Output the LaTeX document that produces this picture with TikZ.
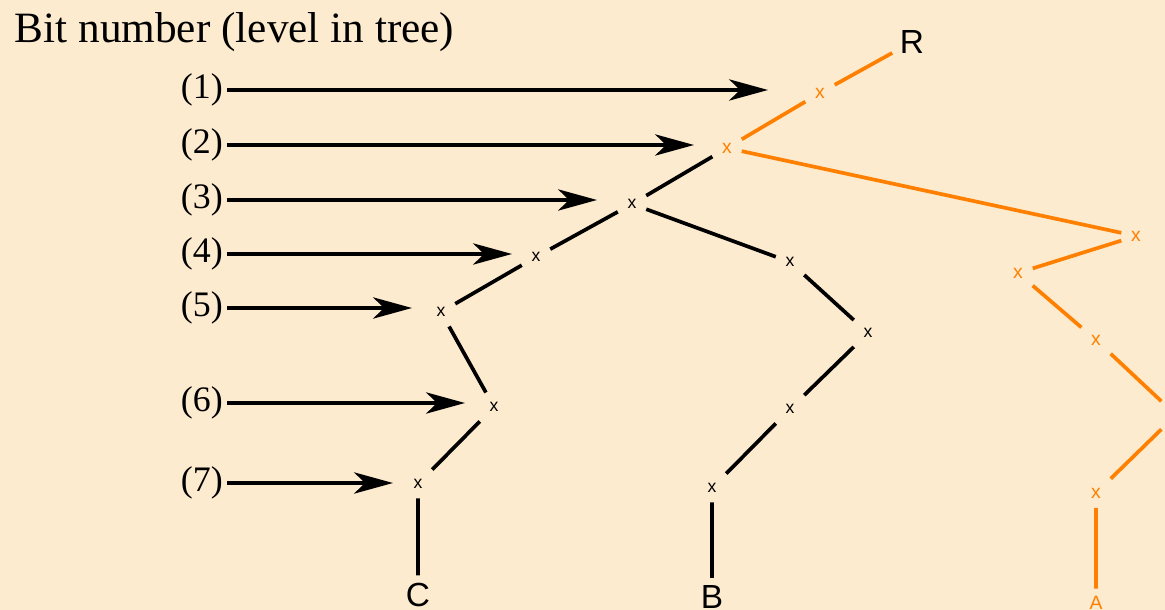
\documentclass[tikz,border=0pt]{standalone}
\usepackage{fontspec}
\setmainfont{Liberation Serif}
\setsansfont{Liberation Sans}
\usetikzlibrary{arrows.meta}
\definecolor{paper}{RGB}{253,235,208}
\definecolor{orng}{RGB}{255,128,0}
\begin{document}
\begin{tikzpicture}[x=0.01cm,y=-0.01cm,line join=round,
		bit/.style={inner sep=2.6pt,font=\fontsize{5}{5}\sffamily},
		obit/.style={bit,text=orng,font=\fontsize{5.5}{5.5}\sffamily},
		leaf/.style={inner sep=2pt,font=\fontsize{9.5}{9.5}\sffamily},
		lbl/.style={anchor=east,inner sep=1pt,font=\fontsize{10.2}{10.2}\selectfont},
		arr/.style={-{Stealth[length=11pt,width=6pt,inset=3pt]},line width=1.2pt},
		edge/.style={line width=1.05pt},
		oedge/.style={edge,orng}]
	\fill[paper] (0,0) rectangle (1165,610);
	\useasboundingbox (0,0) rectangle (1165,610);
	\clip (0,0) rectangle (1165,610);
	\node[anchor=base west,inner sep=0pt,font=\fontsize{12.3}{12.3}\selectfont] (title) at (14,43) {Bit number (level in tree)};
	% levels and arrows
	\foreach \i/\y/\e in {1/90/768,2/145/694,3/200/597,4/254/512,5/308/412,6/403/465,7/483/393}{
		\node[lbl] (l\i) at (227,\y) {(\i)};
		\coordinate (e\i) at (\e,\y);
		\draw[arr] (l\i.east) -- (e\i);}
	% black tree
	\foreach \n/\x/\y in {n3/632/204,n4/536/257,n5/441/312,n6/494/407,n7/418/484,m4/790/262,m5/868/333,m6/790/409,m7/712/488}
		\node[bit] (\n) at (\x,\y) {x};
	\node[leaf] (C) at (418,595) {C};
	\node[leaf] (B) at (712,597) {B};
	% orange path
	\foreach \n/\x/\y in {o1/820/93,o2/727/148,p3/1136/236,p4/1018/273,p5/1096/340,p6/1176/415,p7/1096/493}
		\node[obit] (\n) at (\x,\y) {x};
	\node[leaf] (R) at (912,42) {R};
	\node[leaf,text=orng,font=\fontsize{5.5}{5.5}\sffamily] (A) at (1096,603) {A};
	\draw[edge] (o2) -- (n3) -- (n4) -- (n5) -- (n6) -- (n7) -- (C);
	\draw[edge] (n3) -- (m4) -- (m5) -- (m6) -- (m7) -- (B);
	\draw[oedge] (R) -- (o1) -- (o2) -- (p3) -- (p4) -- (p5) -- (p6) -- (p7) -- (A);
\end{tikzpicture}
\end{document}
